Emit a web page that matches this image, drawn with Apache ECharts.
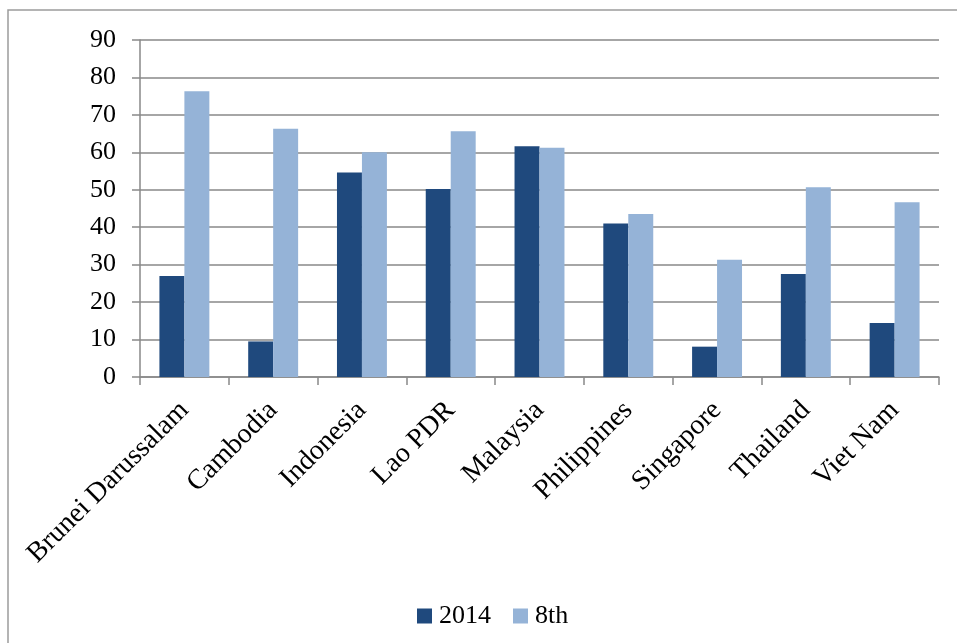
<!DOCTYPE html>
<html>
<head>
<meta charset="utf-8">
<script src="https://cdn.jsdelivr.net/npm/echarts@6/dist/echarts.min.js"></script>
<style>
  html, body { margin: 0; padding: 0; background: #fff; }
  #chart { width: 957px; height: 643px; }
</style>
</head>
<body>
<div id="chart"></div>
<script>
// Countries on the category axis
const countries = ['Brunei Darussalam', 'Cambodia', 'Indonesia', 'Lao PDR', 'Malaysia',
  'Philippines', 'Singapore', 'Thailand', 'Viet Nam'];
// Series names
const seriesNames = ['2014', '8th'];
// Values per country
const values2014 = [27.0, 9.5, 54.6, 50.2, 61.6, 41.0, 8.1, 27.5, 14.4];
const values8th = [76.3, 66.3, 60.0, 65.6, 61.2, 43.5, 31.3, 50.7, 46.7];
// Value axis ticks
const yMin = 0, yMax = 90, yStep = 10;

const FONT = 'Liberation Serif';
const GRID_COLOR = '#898989';

const chart = echarts.init(document.getElementById('chart'), null, { renderer: 'canvas' });
chart.setOption({
  backgroundColor: '#fff',
  animation: false,
  textStyle: { fontFamily: FONT, color: '#000' },
  graphic: [{
    type: 'rect',
    shape: { x: 8, y: 10, width: 1000, height: 700 },
    style: { fill: 'none', stroke: '#9c9c9c', lineWidth: 1.5 },
    silent: true
  }],
  grid: { left: 140, right: 18, top: 40, bottom: 266 },
  legend: {
    data: seriesNames,
    top: 598,
    left: 412,
    itemWidth: 15,
    itemHeight: 15,
    itemGap: 22,
    icon: 'rect',
    textStyle: { fontFamily: FONT, fontSize: 26, color: '#000', padding: [0, 0, 0, 2] }
  },
  xAxis: {
    type: 'category',
    data: countries,
    axisLine: { lineStyle: { color: GRID_COLOR, width: 1.5 } },
    axisTick: { show: true, length: 8, lineStyle: { color: GRID_COLOR, width: 1.5 } },
    axisLabel: {
      rotate: 45,
      interval: 0,
      margin: 29,
      fontFamily: FONT,
      fontSize: 28,
      color: '#000'
    }
  },
  yAxis: {
    type: 'value',
    min: yMin,
    max: yMax,
    interval: yStep,
    axisLine: { show: true, lineStyle: { color: GRID_COLOR, width: 1.5 } },
    axisTick: { show: true, length: 8, lineStyle: { color: GRID_COLOR, width: 1.5 } },
    splitLine: { lineStyle: { color: GRID_COLOR, width: 1.5 } },
    axisLabel: { margin: 24, fontFamily: FONT, fontSize: 26, color: '#000' }
  },
  series: [
    {
      name: seriesNames[0],
      type: 'bar',
      data: values2014,
      barGap: '0%',
      barCategoryGap: '43.75%',
      itemStyle: { color: '#1F497D' }
    },
    {
      name: seriesNames[1],
      type: 'bar',
      data: values8th,
      barGap: '0%',
      barCategoryGap: '43.75%',
      itemStyle: { color: '#95B3D7' }
    }
  ]
});
</script>
</body>
</html>
